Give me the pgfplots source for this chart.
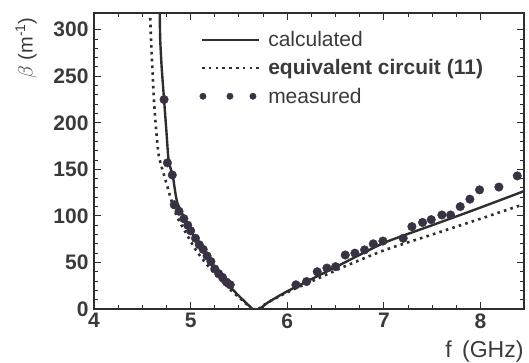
\documentclass[border=0pt]{standalone}
\usepackage{fontspec}
\setmainfont{Liberation Sans}
\usepackage{pgfplots}
\pgfplotsset{compat=1.18}
\definecolor{axc}{HTML}{2E2E2E}
\definecolor{txc}{HTML}{3A3A3A}
\definecolor{dotc}{HTML}{3A3242}
\begin{document}
\begin{tikzpicture}
\begin{axis}[
  scale only axis, width=430pt, height=296pt,
  xmin=4, xmax=8.45, ymin=0, ymax=318,
  xtick={4,5,6,7,8}, minor x tick num=3,
  ytick={0,50,100,150,200,250,300}, minor y tick num=4,
  tick align=inside, major tick length=7pt, minor tick length=4pt,
  axis line style={line width=1.6pt, color=axc},
  every tick/.style={line width=1pt, color=axc},
  /pgf/number format/assume math mode=true,
  ticklabel style={font=\fontsize{21}{24}\selectfont\bfseries, text=txc},
  xticklabel style={yshift=-1pt},
  yticklabel style={xshift=-2pt},
  xlabel={f\hspace{0.45em}(GHz)},
  xlabel style={font=\fontsize{23}{27}\selectfont, text=txc, at={(axis description cs:1,0)}, anchor=east, yshift=-43pt, xshift=3pt},
  ylabel={$\beta$\ (m\textsuperscript{-1})},
  ylabel style={font=\fontsize{20}{24}\selectfont, text=txc, at={(axis description cs:-0.158,0.882)}, anchor=center},
  legend cell align=left,
  legend style={draw=none, fill=none, at={(axis description cs:0.245,0.945)}, anchor=north west,
    font=\fontsize{21}{24}\selectfont, text=txc, row sep=7.5pt, inner sep=0pt},
  clip=true,
]
\coordinate (sw) at (rel axis cs:0,0);
\coordinate (ne) at (rel axis cs:1,1);
\addplot[axc, line width=2.4pt, smooth, tension=0.4,
  legend image code/.code={\draw[axc, line width=2.4pt] (0pt,0pt) -- (57pt,0pt);}]
  coordinates {(4.68,320)(4.685,290)(4.70,260)(4.725,225)(4.75,190)(4.77,162)(4.80,148)(4.82,140)(4.86,115)(4.94,97)(5.0,84)(5.1,67)(5.18,53)(5.27,39)(5.38,27)(5.5,14)(5.64,0)};
\addlegendentry{\hspace{6pt}calculated}
\addplot[axc, line width=2.6pt, dash pattern=on 2.6pt off 4.2pt, smooth, tension=0.4,
  legend image code/.code={\draw[axc, line width=2.6pt, dash pattern=on 2.6pt off 4.2pt] (0pt,0pt) -- (57pt,0pt);}]
  coordinates {(4.58,320)(4.59,290)(4.62,225)(4.645,190)(4.67,165)(4.71,149)(4.75,135)(4.80,117)(4.86,99)(4.95,82)(5.05,64)(5.15,50)(5.25,38)(5.35,27)(5.45,17)(5.55,8)(5.63,0)};
\addlegendentry{\hspace{6pt}\textbf{equivalent circuit (11)}}
\addplot[only marks, mark=*, mark size=4.3pt, color=dotc, mark options={fill=dotc, draw=dotc},
  legend image code/.code={\fill[dotc] (1pt,0pt) circle (3.2pt) (28pt,0pt) circle (3.2pt) (51pt,0pt) circle (3.2pt);}]
  coordinates {(4.725,225)(4.76,157)(4.81,144)(4.83,112)(4.88,105)(4.93,97)(4.97,90)(5.0,84)(5.05,76)(5.09,69)(5.13,64)(5.17,57)(5.21,51)(5.25,43)(5.29,38)(5.33,34)(5.37,29)(5.41,26)
  (6.09,26)(6.20,29.5)(6.31,40)(6.41,44)(6.50,45.5)(6.60,58)(6.70,60)(6.80,63.5)(6.89,70)(6.99,73)(7.20,76)(7.29,88.5)(7.40,93)(7.49,96)(7.60,101)(7.69,101)(7.79,110)(7.89,118)(7.99,128)(8.19,131)(8.38,143)};
\addlegendentry{\hspace{6pt}measured}
\addplot[axc, line width=2.4pt, smooth, tension=0.3, forget plot]
  coordinates {(5.64,0)(5.71,0)(5.8,7)(6.0,19)(6.5,45)(7.0,71)(7.5,90)(8.0,109)(8.46,127)};
\addplot[axc, line width=2.6pt, dash pattern=on 2.6pt off 4.2pt, smooth, tension=0.3, forget plot]
  coordinates {(5.70,0)(5.8,7)(6.0,18)(6.3,32)(6.6,46)(7.0,63)(7.5,80)(8.0,97)(8.46,113)};
\end{axis}
\pgfresetboundingbox
\path ([shift={(-94pt,-54pt)}]sw) rectangle ([shift={(5pt,13pt)}]ne);
\end{tikzpicture}
\end{document}
